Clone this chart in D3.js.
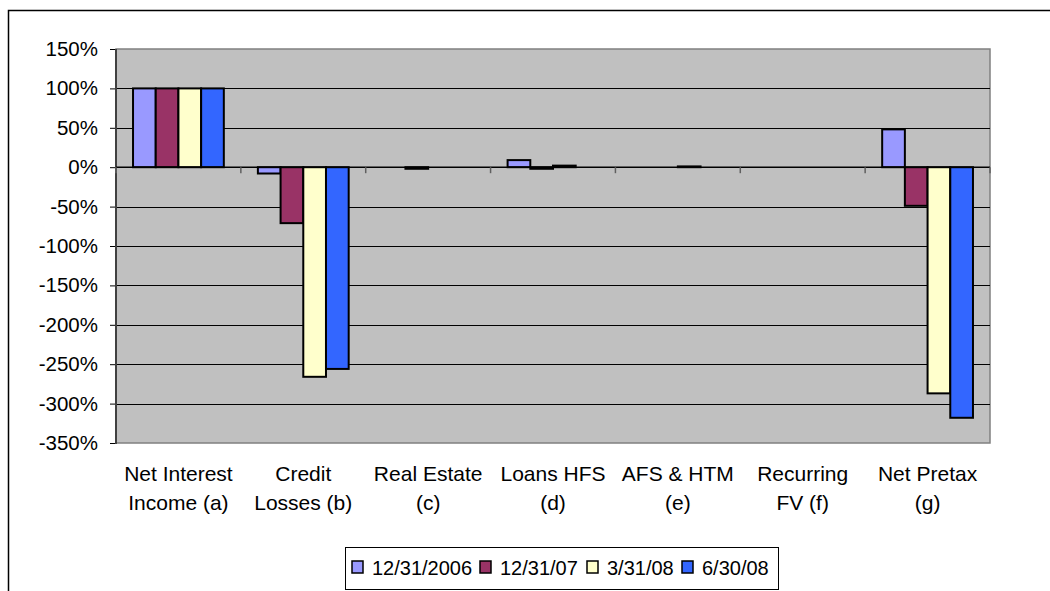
<!DOCTYPE html>
<html>
<head>
<meta charset="utf-8">
<script src="https://cdn.jsdelivr.net/npm/d3@7"></script>
<style>
  html, body { margin: 0; padding: 0; background: #fff; }
  svg { display: block; font-family: "Liberation Sans", Arial, sans-serif; }
</style>
</head>
<body>
<svg id="chart" width="1050" height="591"></svg>
<script>
// Categories (each label split into its two display lines)
const categories = ["Net Interest Income (a)", "Credit Losses (b)", "Real Estate (c)", "Loans HFS (d)", "AFS & HTM (e)", "Recurring FV (f)", "Net Pretax (g)"];
const categoryLines = [["Net Interest", "Income (a)"], ["Credit", "Losses (b)"], ["Real Estate", "(c)"], ["Loans HFS", "(d)"], ["AFS & HTM", "(e)"], ["Recurring", "FV (f)"], ["Net Pretax", "(g)"]];

// Series names and values (percent)
const seriesNames = ["12/31/2006", "12/31/07", "3/31/08", "6/30/08"];
const values2006 = [100, -8, 0, 9, 0, 0, 48];
const valuesDec07 = [100, -71, -2, -2, 0, 0, -49];
const valuesMar08 = [100, -266, 0, 2, 1, 0, -287];
const valuesJun08 = [100, -256, 0, 0, 0, 0, -318];
const seriesColors = ["#9999FF", "#993366", "#FFFFCC", "#3366FF"];

// Axis ticks
const yTicks = [150, 100, 50, 0, -50, -100, -150, -200, -250, -300, -350];

const allSeries = [values2006, valuesDec07, valuesMar08, valuesJun08];

const svg = d3.select("#chart");

// Chart area frame
svg.append("rect")
  .attr("x", 8.5).attr("y", 10.5)
  .attr("width", 1100).attr("height", 700)
  .attr("fill", "#fff").attr("stroke", "#000").attr("stroke-width", 1.5);

const plot = { left: 116, right: 990, top: 49, bottom: 443 };

const x0 = d3.scaleBand().domain(categories).range([plot.left, plot.right]).padding(0);
const x1 = d3.scaleBand().domain(seriesNames).range([0, x0.bandwidth()])
  .paddingInner(0).paddingOuter(0.75);
const y = d3.scaleLinear().domain([-350, 150]).range([plot.bottom, plot.top]);

// Plot background
svg.append("rect")
  .attr("x", plot.left).attr("y", plot.top)
  .attr("width", plot.right - plot.left).attr("height", plot.bottom - plot.top)
  .attr("fill", "#C0C0C0")
  .attr("stroke", "#808080").attr("stroke-width", 1.5);

// Gridlines
svg.append("g").selectAll("line")
  .data(yTicks.filter(t => t !== 150 && t !== -350 && t !== 0))
  .join("line")
  .attr("x1", plot.left).attr("x2", plot.right)
  .attr("y1", d => Math.round(y(d)) + 0.5).attr("y2", d => Math.round(y(d)) + 0.5)
  .attr("stroke", "#000").attr("stroke-width", 1);

// Y axis
const yAxis = d3.axisLeft(y).tickValues(yTicks).tickSize(6).tickPadding(12)
  .tickFormat(d => d + "%");
const gy = svg.append("g").attr("transform", `translate(${plot.left},0)`).call(yAxis);
gy.select(".domain").remove();
gy.selectAll(".tick line").attr("stroke", "#000");
gy.selectAll(".tick text")
  .attr("font-size", 20.5).attr("fill", "#000")
  .attr("font-family", "'Liberation Sans', Arial, sans-serif");

// Left axis line
svg.append("line")
  .attr("x1", plot.left).attr("x2", plot.left)
  .attr("y1", plot.top).attr("y2", plot.bottom + 1)
  .attr("stroke", "#404040").attr("stroke-width", 2);

// Bars
const barData = [];
categories.forEach((c, i) => {
  seriesNames.forEach((s, j) => {
    const v = allSeries[j][i];
    if (v !== 0) barData.push({ c, s, v, color: seriesColors[j] });
  });
});

svg.append("g").selectAll("rect")
  .data(barData)
  .join("rect")
  .attr("x", d => x0(d.c) + x1(d.s))
  .attr("width", x1.bandwidth())
  .attr("y", d => Math.min(y(d.v), y(0)))
  .attr("height", d => Math.abs(y(d.v) - y(0)))
  .attr("fill", d => d.color)
  .attr("stroke", "#000").attr("stroke-width", 2);

// Zero line (category axis)
svg.append("line")
  .attr("x1", plot.left).attr("x2", plot.right)
  .attr("y1", y(0)).attr("y2", y(0))
  .attr("stroke", "#000").attr("stroke-width", 1.5);

// Category tick marks at band boundaries
const boundaries = categories.map(c => x0(c)).concat([plot.right]);
svg.append("g").selectAll("line")
  .data(boundaries)
  .join("line")
  .attr("x1", d => d).attr("x2", d => d)
  .attr("y1", y(0)).attr("y2", y(0) + 6)
  .attr("stroke", "#606060").attr("stroke-width", 1.5);

// Category labels
const labels = svg.append("g")
  .attr("font-size", 21).attr("fill", "#000").attr("text-anchor", "middle");
categories.forEach((c, i) => {
  const t = labels.append("text").attr("x", x0(c) + x0.bandwidth() / 2);
  categoryLines[i].forEach((line, k) => {
    t.append("tspan")
      .attr("x", x0(c) + x0.bandwidth() / 2)
      .attr("y", 481 + k * 29)
      .text(line);
  });
});

// Legend
const legend = svg.append("g");
legend.append("rect")
  .attr("x", 345.5).attr("y", 547.5).attr("width", 433).attr("height", 42)
  .attr("fill", "#fff").attr("stroke", "#000").attr("stroke-width", 1);

const legendX = [352, 480, 587, 682];
seriesNames.forEach((s, j) => {
  legend.append("rect")
    .attr("x", legendX[j]).attr("y", 561)
    .attr("width", 11).attr("height", 12)
    .attr("fill", seriesColors[j]).attr("stroke", "#000").attr("stroke-width", 1.5);
  legend.append("text")
    .attr("x", legendX[j] + 20).attr("y", 575)
    .attr("font-size", 20).attr("fill", "#000")
    .text(s);
});
</script>
</body>
</html>
